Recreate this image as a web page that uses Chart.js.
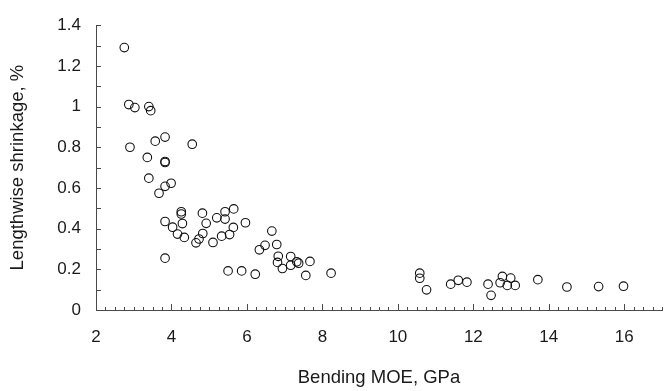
<!DOCTYPE html>
<html>
<head>
<meta charset="utf-8">
<script src="https://cdn.jsdelivr.net/npm/chart.js@4/dist/chart.umd.min.js"></script>
<style>
  html, body { margin: 0; padding: 0; background: #fff; }
  #wrap { width: 671px; height: 391px; }
</style>
</head>
<body>
<div id="wrap"><canvas id="c" width="671" height="391"></canvas></div>
<script>
// Bending modulus of elasticity (GPa) for each specimen
const moe = [
  2.75, 2.87, 3.03, 3.40, 3.45, 3.83, 3.57, 4.55, 2.90, 3.36,
  3.83, 3.83, 3.40, 3.83, 3.99, 3.67, 4.26, 4.26, 3.83, 4.03,
  4.29, 4.16, 4.34, 4.82, 4.92, 4.83, 4.73, 4.65, 5.10, 5.20,
  5.42, 5.42, 5.65, 5.64, 5.54, 5.33, 3.83, 5.50, 5.96, 6.66,
  6.79, 6.48, 6.33, 6.83, 7.16, 6.81, 7.32, 7.37, 7.67, 7.16,
  6.94, 7.56, 8.23, 5.86, 6.22,
  10.58, 10.58, 10.76, 11.40, 11.60, 11.83, 12.39, 12.47, 12.71, 12.77,
  12.99, 12.90, 13.11, 13.71, 14.48, 15.32, 15.98
];
// Lengthwise shrinkage (%) for the same specimens
const shrinkage = [
  1.29, 1.01, 0.995, 1.00, 0.98, 0.85, 0.83, 0.815, 0.80, 0.75,
  0.73, 0.725, 0.648, 0.608, 0.623, 0.574, 0.483, 0.472, 0.435, 0.407,
  0.425, 0.373, 0.357, 0.476, 0.426, 0.376, 0.349, 0.33, 0.332, 0.453,
  0.483, 0.447, 0.497, 0.406, 0.371, 0.363, 0.255, 0.192, 0.429, 0.388,
  0.322, 0.318, 0.296, 0.264, 0.263, 0.234, 0.237, 0.23, 0.239, 0.22,
  0.204, 0.17, 0.181, 0.192, 0.176,
  0.181, 0.156, 0.099, 0.127, 0.146, 0.137, 0.127, 0.072, 0.134, 0.165,
  0.157, 0.121, 0.121, 0.149, 0.113, 0.115, 0.117
];
// Axis ranges and labelled tick values
const xRange = [2, 17];
const yRange = [0, 1.4];
const xTickLabels = [2, 4, 6, 8, 10, 12, 14, 16];
const yTickLabels = [0, 0.2, 0.4, 0.6, 0.8, 1, 1.2, 1.4];

const points = moe.map((x, i) => ({ x: x, y: shrinkage[i] }));
const axisColor = '#4a4a4a';
const textColor = '#1a1a1a';
const fontFamily = '"Liberation Sans", Arial, sans-serif';

// Draws tick marks pointing into the plot area
const insideTicks = {
  id: 'insideTicks',
  afterDraw(chart) {
    const ctx = chart.ctx;
    const xs = chart.scales.x, ys = chart.scales.y;
    const area = chart.chartArea;
    ctx.save();
    ctx.strokeStyle = axisColor;
    ctx.lineWidth = 1;
    ctx.beginPath();
    for (let k = 0; k <= (xRange[1] - xRange[0]) * 4; k++) {
      const v = xRange[0] + k * 0.25;
      const px = Math.round(xs.getPixelForValue(v)) + 0.5;
      const len = (Math.abs(v % 2) < 1e-6) ? 6 : 3;
      ctx.moveTo(px, area.bottom);
      ctx.lineTo(px, area.bottom - len);
    }
    for (let k = 0; k <= 14; k++) {
      const v = k * 0.1;
      const py = Math.round(ys.getPixelForValue(v)) + 0.5;
      ctx.moveTo(area.left, py);
      ctx.lineTo(area.left + 5, py);
    }
    ctx.stroke();
    ctx.restore();
  }
};

new Chart(document.getElementById('c'), {
  type: 'scatter',
  data: {
    datasets: [{
      data: points,
      pointStyle: 'circle',
      pointRadius: 4.3,
      pointHoverRadius: 4.3,
      pointBorderWidth: 1.1,
      borderColor: '#111',
      backgroundColor: 'rgba(255,255,255,0)'
    }]
  },
  options: {
    responsive: false,
    animation: false,
    events: [],
    layout: { padding: { top: 13, right: 9, left: 0, bottom: 0 } },
    plugins: { legend: { display: false }, tooltip: { enabled: false } },
    scales: {
      x: {
        type: 'linear',
        min: xRange[0],
        max: xRange[1],
        afterBuildTicks(scale) {
          scale.ticks = xTickLabels.map(v => ({ value: v }));
        },
        afterFit(scale) { scale.height = 81; },
        grid: { display: false, drawTicks: false },
        border: { display: true, color: axisColor, width: 1 },
        ticks: {
          padding: 17,
          color: textColor,
          font: { family: fontFamily, size: 17 },
          maxRotation: 0,
          autoSkip: false,
          callback: v => String(v)
        },
        title: {
          display: true,
          text: 'Bending MOE, GPa',
          color: textColor,
          font: { family: fontFamily, size: 18.5 },
          padding: { top: 0, bottom: 2 }
        }
      },
      y: {
        type: 'linear',
        min: yRange[0],
        max: yRange[1],
        afterBuildTicks(scale) {
          scale.ticks = yTickLabels.map(v => ({ value: v }));
        },
        afterFit(scale) { scale.width = 96; },
        grid: { display: false, drawTicks: false },
        border: { display: true, color: axisColor, width: 1 },
        ticks: {
          padding: 15,
          color: textColor,
          font: { family: fontFamily, size: 17 },
          autoSkip: false,
          callback: v => String(v)
        },
        title: {
          display: true,
          text: 'Lengthwise shrinkage, %',
          color: textColor,
          font: { family: fontFamily, size: 18.5 },
          padding: { top: 7, bottom: 0 }
        }
      }
    }
  },
  plugins: [insideTicks]
});
</script>
</body>
</html>
